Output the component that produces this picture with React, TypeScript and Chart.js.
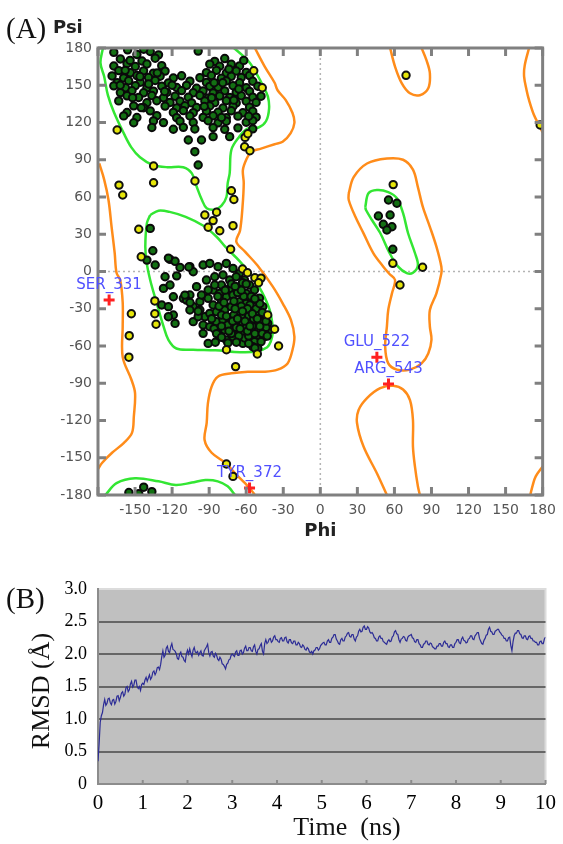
import React, { useEffect, useRef } from "react";
import { Chart, registerables } from "chart.js";

Chart.register(...registerables);

// ================= Panel A : Ramachandran plot (phi, psi) =================
const ANGLE_MIN = -180;
const ANGLE_MAX = 180;
const ANGLE_STEP = 30;

// core (favoured) region contours – green
const CORE_BETA: number[][] = [
  [-176, 180], [-178, 168], [-175, 157], [-172, 142], [-167, 128], [-159, 111], [-153, 100], [-146, 92],
  [-136, 86], [-124, 84], [-111, 84], [-104, 79], [-100, 68], [-96, 58], [-92, 51], [-85, 50],
  [-80, 53], [-76, 60], [-75, 71], [-73.4, 79], [-72, 98], [-66, 108], [-59, 115], [-50, 116],
  [-44, 121], [-41.5, 131], [-42.5, 141], [-46.6, 150], [-52, 160], [-57, 168], [-63, 174], [-70, 180],
];
const CORE_BETA_WRAP: number[][] = [
  [-174, -180], [-165, -170.5], [-150, -166.5], [-131, -169], [-117, -172], [-104, -170], [-93, -168],
  [-83, -169], [-75, -173], [-69, -180],
];
const CORE_ALPHA: number[][] = [
  [-137.7, 45.5], [-131, 49], [-122, 48], [-109, 44], [-95, 37], [-84, 28], [-77, 20], [-65, 8],
  [-55, -4], [-47, -17], [-41, -31], [-38.6, -44], [-38.6, -50], [-40, -56], [-43, -61], [-52, -64.5],
  [-65, -65], [-85, -63.5], [-103, -63], [-116.5, -62], [-123, -55], [-127, -44], [-132.6, -25],
  [-137.7, -7], [-140.6, 7], [-141.7, 20], [-140.4, 39], [-137.7, 45.5],
];
const CORE_LEFT: number[][] = [
  [36.4, 52], [39, 63], [45.8, 65.6], [55, 64], [62, 59], [67, 47], [71, 31], [76.6, 14.9], [79, 5],
  [75, -1], [70, -1.3], [63, 3.9], [56, 15], [48.5, 31], [41.8, 41.5], [37, 49.5], [36.4, 52],
];

// allowed (generous) region contours – orange
const ALLOW_LEFT_STRIP: number[][] = [
  [-179, 87], [-175, 74], [-171.5, 57.6], [-169, 36], [-166.5, 15], [-165, -1], [-162, -7], [-160, -25],
  [-160, -44], [-160, -69], [-153, -87], [-150, -98], [-151, -117], [-152.5, -130], [-159, -138],
  [-168.6, -146], [-176.6, -154], [-180, -159],
];
const ALLOW_RIGHT_TOP: number[][] = [
  [169, 180], [165.5, 166], [165, 157], [167, 146], [169, 138], [173, 126], [177, 118], [180, 112],
];
const ALLOW_RIGHT_BOTTOM: number[][] = [[170, -180], [172, -172], [174.4, -165], [180, -157]];
const ALLOW_MAIN: number[][] = [
  [-53, 180], [-45, 165], [-37, 152], [-34.6, 146], [-28, 138], [-22.5, 127.6], [-21, 119.6], [-24, 111.5],
  [-30.5, 104.5], [-37, 102.5], [-48, 99], [-56, 96.5], [-60, 90], [-62.7, 81.7], [-62, 71], [-63, 52],
  [-65, 33], [-68, 24], [-61, 16], [-51, 5], [-38.6, -12], [-30.5, -25.6], [-23.8, -39], [-21, -52.5],
  [-22.5, -63], [-26.5, -74], [-34.6, -79], [-45, -80.7], [-58.7, -80.7], [-72, -82], [-83, -84.7],
  [-88, -92.7], [-91, -106], [-92, -122], [-93.7, -135.7], [-88, -146], [-77, -154], [-69, -162.5],
  [-61, -170.5], [-56, -176], [-53, -180],
];
const ALLOW_LEFT_HANDED: number[][] = [
  [23, 63], [27, 76], [37.8, 87], [53.9, 91], [67, 90], [75, 82], [79, 68], [83, 52], [88.7, 36], [94, 20],
  [98, 3.9], [98, -1.5], [94, -17.6], [88.7, -31], [88.7, -44.4], [90, -55], [87.4, -66], [82, -74],
  [72.6, -79], [62, -79], [55, -74], [52.5, -60.5], [53.9, -44.4], [55, -31], [58, -17.6], [60.5, -6.8],
  [56, -2], [51, 3.9], [43, 14.6], [35, 30.7], [28.4, 44], [23, 57.6], [23, 63],
];
const ALLOW_BOTTOM_LOOP: number[][] = [
  [53.9, -180], [45.8, -162.5], [35, -141], [29.7, -122], [31, -111.5], [37.8, -102], [48.5, -94], [59, -92],
  [67, -95], [72.6, -103.5], [75, -119.6], [75, -141], [76.6, -157], [79, -173], [80.6, -180],
];
const ALLOW_TOP_LOOP: number[][] = [
  [56.5, 180], [60.5, 165], [66, 151.5], [72.6, 143.5], [80.6, 142], [87.4, 147.5], [88.7, 159.6], [86, 170],
  [82, 180],
];

// residues in favoured regions (dark green)
const FAVOURED: number[][] = [
  [-167.2, 176.5], [-148.5, 174.8], [-137.7, 177.2], [-131, 174.5], [-98.9, 177.5], [-156, 178.5], [-143, 179],
  [-161.9, 171.2], [-144.4, 169.5], [-133.7, 171.8], [-85.5, 169.2], [-77.4, 171.5],
  [-167.2, 165.5], [-156.5, 167.4], [-149.8, 165.2], [-140.4, 167.1], [-128.4, 165.8], [-89.5, 167], [-81.5, 165.3], [-72.1, 166.9], [-65.4, 165.6],
  [-163.2, 161.8], [-153.8, 160.1], [-143.1, 161.6], [-135.1, 159.8], [-125.7, 161.4], [-92.2, 160.2], [-84.1, 162], [-76.1, 159.9], [-68.1, 161.5], [-60, 160.4],
  [-168.6, 157.5], [-159.2, 155.9], [-148.5, 157.8], [-139.1, 156.2], [-129.7, 157.3], [-119, 155.8], [-112.3, 157.6], [-97.5, 156.1], [-88.2, 157.9], [-80.1, 155.6], [-72.1, 157.2], [-64, 156.3], [-57.3, 157.8],
  [-164.5, 152.1], [-155.2, 153.6], [-145.8, 152.4], [-133.7, 153.8], [-123, 151.9], [-105.6, 153.3], [-92.2, 152.2], [-76.1, 153.5], [-65.4, 152], [-54.7, 153.2],
  [-167.2, 149.5], [-157.8, 148], [-149.8, 149.7], [-140.4, 147.9], [-128.4, 149.3], [-116.3, 148.2], [-108.3, 149.9], [-100.2, 147.6], [-89.5, 149.1], [-82.8, 148.3], [-70.7, 149.6], [-60, 148.1], [-50.6, 149.2],
  [-161.9, 144.1], [-152.5, 145.6], [-143.1, 143.9], [-135.1, 145.3], [-124.3, 144.2], [-112.3, 145.7], [-102.9, 144], [-94.9, 145.4], [-86.8, 143.8], [-77.4, 145.5], [-68.1, 144.3], [-57.3, 145.1],
  [-156.5, 141.5], [-147.1, 140.1], [-136.4, 141.7], [-127, 139.9], [-117.6, 141.2], [-106.9, 140.3], [-97.5, 141.8], [-90.8, 139.8], [-81.5, 141.4], [-73.4, 140.2], [-64, 141.6], [-54.7, 140.4], [-48, 141.2],
  [-163.2, 137.4], [-140.4, 135.9], [-132.4, 137.5], [-121.7, 136.1], [-113.6, 137.2], [-104.2, 135.8], [-93.5, 137.3], [-85.5, 136], [-76.1, 137.6], [-68.1, 135.7], [-60, 137.1], [-52, 136.2],
  [-151.1, 133.4], [-143.1, 131.9], [-125.7, 133.2], [-116.3, 131.8], [-109.6, 133.5], [-100.2, 132.1], [-89.5, 133.3], [-78.8, 131.7], [-70.7, 133.1], [-57.3, 132.3],
  [-156.5, 128], [-137.7, 129.4], [-119, 128.1], [-110.9, 129.6], [-102.9, 127.9], [-92.2, 129.2], [-82.8, 128.2], [-72.1, 129.5], [-62.7, 127.8], [-54.7, 129.1],
  [-159.2, 125.3], [-148.5, 124], [-132.4, 125.5], [-116.3, 123.9], [-105.6, 125.2], [-94.9, 124.1], [-86.8, 125.4], [-76.1, 123.8], [-66.7, 125.1], [-52, 124.3],
  [-151.1, 119.8], [-135.1, 121.3], [-127, 119.9], [-113.6, 121.1], [-102.9, 120], [-90.8, 121.4], [-82.8, 119.7], [-76.1, 121], [-60, 120.2], [-54.7, 121.5],
  [-136.4, 116], [-119, 114.6], [-110.9, 116.1], [-101.6, 114.8], [-86.8, 115.9], [-77.4, 114.5], [-66.7, 115.7], [-54.7, 114.9],
  [-86.8, 108.6], [-73.4, 108.6], [-106.9, 105.9], [-96.2, 105.9], [-101.6, 96.5], [-98.9, 85.8],
  [-162, 150], [-152, 140], [-145, 132], [-154, 170], [-158, 162], [-139, 151], [-146, 157], [-126, 145], [-132, 160], [-120, 150],
  [-86, 152], [-74, 163], [-66, 147], [-58, 125], [-80, 124], [-94, 133], [-70, 138], [-62, 170], [-88, 140], [-79, 152],
  [-137.7, 34.7], [-135.6, 16.7], [-140.4, 9.2], [-133.7, 5.2], [-121.7, 9.8], [-117.6, 8.2], [-113.6, 3.3], [-105.6, 3.9],
  [-125.7, -4.2], [-116.3, -3.5], [-102.9, -0.2], [-94.9, 5.2], [-89.5, 6.5], [-82.8, 3.9], [-76.1, 6.5], [-70.7, 2.5], [-65.4, -1.5],
  [-127, -13.6], [-121.7, -10.9], [-119, -20.3], [-110.9, -21.6], [-105.6, -18.9], [-100.2, -12.2], [-92.2, -6.9], [-85.5, -4.2], [-78.8, -2.8], [-73.4, -6.9], [-68.1, -4.2], [-61.4, -6.9], [-57.3, -10.9],
  [-128.4, -27], [-123, -28.3], [-119, -35], [-108.3, -23], [-102.9, -28.3], [-97.5, -24.3], [-90.8, -21.6], [-86.8, -14.9], [-80.1, -10.9], [-73.4, -13.6], [-65.4, -12.2], [-60, -17.6], [-53.3, -14.9],
  [-123, -36.4], [-117.6, -41.8], [-105.6, -31], [-97.5, -31], [-93.5, -36.4], [-86.8, -27], [-80.1, -23], [-76.1, -20.3], [-70.7, -18.9], [-65.4, -24.3], [-60, -25.7], [-54.7, -23], [-49.3, -21.6], [-46.6, -28.3],
  [-102.9, -40.4], [-94.9, -43.1], [-89.5, -33.7], [-84.1, -32.4], [-77.4, -31], [-72.1, -28.3], [-66.7, -32.4], [-61.4, -33.7], [-56, -31], [-50.6, -33.7], [-45.3, -36.4],
  [-94.9, -49.8], [-89.5, -44.4], [-84.1, -40.4], [-78.8, -39.1], [-73.4, -37.7], [-68.1, -40.4], [-62.7, -41.8], [-57.3, -40.4], [-52, -41.8], [-46.6, -44.4], [-42.6, -41.8],
  [-90.8, -57.9], [-82.8, -49.8], [-77.4, -47.1], [-72.1, -45.8], [-66.7, -48.5], [-61.4, -49.8], [-56, -48.5], [-50.6, -51.2], [-45.3, -52.5], [-41.3, -47.1],
  [-76.1, -55.2], [-70.7, -52.5], [-65.4, -55.2], [-58.7, -55.2], [-53.3, -56.5], [-48, -56.5], [-62.7, -57.9], [-54.7, -60.5], [-50.6, -61.9],
  [-85.5, -10.9], [-81.5, -17.6], [-96.2, -18.9], [-98.9, -36.4], [-90.8, -14.9], [-109.6, -19], [-105.5, -25], [-98.9, -32], [-74.8, -57.6], [-61.3, -53.5], [-53, -61.6],
  [-70, -35], [-63, -37], [-58, -36], [-68, -45], [-60, -45], [-55, -44], [-64, -28], [-57, -27], [-52, -30], [-75, -43], [-80, -35],
  [-70, -24], [-62, -20], [-48, -40], [-50, -47], [-45, -48], [-66, -52], [-72, -50], [-58, -52], [-86, -46], [-82, -28], [-78, -25],
  [-59, -30], [-54, -38], [-44, -45], [-49, -26], [-67, -17], [-72, -10], [-77, -15], [-63, -9], [-56, -20], [-123, 10.8], [-106.5, 3.6],
  [-88, -38], [-84, -50], [-80, -44], [-76, -36], [-74, -48], [-71, -40], [-69, -30], [-67, -38], [-65, -46], [-63, -32],
  [-61, -40], [-59, -48], [-57, -44], [-55, -34], [-53, -50], [-51, -38], [-49, -44], [-47, -50], [-47, -33], [-44, -40],
  [-43, -52], [-58, -58], [-68, -57], [-80, -53], [-85, -57], [-64, -15], [-60, -10], [-53, -22], [-69, -12], [-83, -20],
  [-155, -178], [-143, -173.7], [-136.4, -177.3], [-147, -179],
  [55.2, 57.6], [62, 55], [47, 44.7], [56.5, 45.5], [51, 38], [58, 36], [53.9, 33.4], [58.7, 17.9],
];

// residues in allowed regions (yellow)
const ALLOWED: number[][] = [
  [-164.5, 114], [-135, 85], [-135, 71.5], [-163, 69.6], [-160, 61.6], [-101.5, 72.9], [-72, 65], [-70, 58],
  [-93.5, 45.5], [-84, 47.7], [-86.8, 41], [-90.8, 35.6], [-81.4, 32.8], [-70.7, 36.9], [-147, 34], [-145, 11.9],
  [-72.6, 17.9], [-53.9, 161.7], [-47, 148], [-60.9, 108], [-61.3, 100.5], [-57, 97.3], [-58.7, 111],
  [-63, 2], [-59, -1], [-53, -5], [-48, -5.3], [-50, -9], [-134, -23.7], [-134, -34], [-133, -42.5],
  [-153, -34], [-154.7, -51.7], [-155, -69], [-42.6, -35], [-37, -46.5], [-33.8, -60], [-51, -66.4],
  [-76, -63], [-68.6, -76.6], [-76, -155], [-70.7, -165], [69.4, 158], [178, 118], [59, 70], [58.7, 6.6],
  [82.8, 3.4], [64.5, -10.9],
];

// outliers (red crosses) and their labels
const OUTLIERS: number[][] = [[-171, -23], [45.8, -69], [55.2, -90.6], [-57.3, -174.4]];
const OUTLIER_LABELS: string[] = ["SER_331", "GLU_522", "ARG_543", "TYR_372"];

// ================= Panel B : RMSD vs time =================
const TIME_STEP_NS = 0.025;
const RMSD: number[] = [
  0.35, 0.62, 0.95, 1.05, 1.10, 1.22, 1.30, 1.21, 1.24, 1.31, 1.32, 1.25, 1.22, 1.29, 1.30, 1.23, 1.27, 1.35, 1.36, 1.28,
  1.33, 1.40, 1.42, 1.35, 1.38, 1.48, 1.50, 1.42, 1.45, 1.54, 1.58, 1.49, 1.52, 1.60, 1.60, 1.50, 1.47, 1.50, 1.44, 1.53,
  1.55, 1.53, 1.60, 1.64, 1.58, 1.63, 1.68, 1.61, 1.64, 1.72, 1.74, 1.68, 1.72, 1.79, 1.80, 1.76, 1.84, 1.96, 2.05, 1.95,
  1.98, 2.09, 2.12, 2.04, 2.02, 2.11, 2.16, 2.07, 2.06, 2.04, 2.00, 1.93, 1.92, 2.00, 2.03, 1.96, 1.95, 1.90, 1.88, 2.00,
  2.06, 2.00, 2.08, 2.01, 1.96, 2.06, 2.10, 2.03, 2.02, 2.04, 1.98, 2.02, 2.05, 1.98, 1.97, 2.05, 2.08, 2.11, 2.15, 2.02,
  1.97, 2.03, 2.04, 1.97, 1.95, 2.01, 1.98, 1.92, 1.90, 1.95, 1.92, 1.85, 1.84, 1.81, 1.77, 1.84, 1.86, 1.91, 1.92, 1.98,
  2.00, 1.98, 1.96, 2.03, 2.05, 1.98, 1.98, 2.05, 2.06, 2.00, 2.02, 2.09, 2.12, 2.05, 2.05, 2.10, 2.10, 2.05, 2.04, 2.11,
  2.14, 2.04, 2.00, 2.07, 2.08, 2.13, 2.16, 2.04, 2.00, 2.16, 2.22, 2.16, 2.18, 2.23, 2.24, 2.18, 2.20, 2.26, 2.28, 2.22,
  2.22, 2.19, 2.18, 2.24, 2.25, 2.20, 2.20, 2.25, 2.26, 2.19, 2.17, 2.22, 2.22, 2.17, 2.16, 2.20, 2.20, 2.14, 2.14, 2.18,
  2.16, 2.11, 2.10, 2.14, 2.12, 2.07, 2.06, 2.10, 2.08, 2.03, 2.02, 2.04, 2.00, 2.05, 2.06, 2.10, 2.10, 2.06, 2.08, 2.13,
  2.15, 2.17, 2.18, 2.14, 2.14, 2.20, 2.22, 2.18, 2.18, 2.24, 2.26, 2.30, 2.30, 2.23, 2.20, 2.16, 2.15, 2.22, 2.24, 2.20,
  2.20, 2.26, 2.28, 2.32, 2.33, 2.27, 2.26, 2.30, 2.30, 2.23, 2.20, 2.26, 2.28, 2.35, 2.38, 2.34, 2.35, 2.41, 2.43, 2.38,
  2.38, 2.42, 2.40, 2.34, 2.32, 2.33, 2.30, 2.25, 2.24, 2.20, 2.20, 2.26, 2.28, 2.24, 2.24, 2.19, 2.18, 2.16, 2.15, 2.20,
  2.22, 2.19, 2.20, 2.26, 2.28, 2.34, 2.36, 2.31, 2.30, 2.22, 2.18, 2.23, 2.24, 2.27, 2.26, 2.21, 2.20, 2.26, 2.28, 2.29,
  2.30, 2.25, 2.24, 2.19, 2.18, 2.22, 2.22, 2.16, 2.14, 2.10, 2.10, 2.15, 2.16, 2.20, 2.20, 2.15, 2.14, 2.17, 2.16, 2.11,
  2.10, 2.08, 2.08, 2.12, 2.12, 2.16, 2.16, 2.12, 2.12, 2.18, 2.20, 2.16, 2.16, 2.11, 2.10, 2.14, 2.14, 2.10, 2.10, 2.16,
  2.18, 2.22, 2.22, 2.17, 2.16, 2.23, 2.26, 2.21, 2.20, 2.17, 2.18, 2.23, 2.24, 2.28, 2.28, 2.23, 2.22, 2.28, 2.30, 2.33,
  2.33, 2.24, 2.20, 2.16, 2.15, 2.21, 2.24, 2.29, 2.30, 2.38, 2.41, 2.35, 2.34, 2.30, 2.30, 2.35, 2.36, 2.38, 2.38, 2.34,
  2.32, 2.29, 2.28, 2.24, 2.24, 2.20, 2.20, 2.25, 2.26, 2.13, 2.05, 2.19, 2.28, 2.32, 2.32, 2.36, 2.36, 2.31, 2.30, 2.25,
  2.24, 2.28, 2.28, 2.23, 2.22, 2.27, 2.28, 2.24, 2.24, 2.20, 2.20, 2.18, 2.18, 2.14, 2.14, 2.19, 2.20, 2.16, 2.16, 2.23,
  2.26,
];
const RMSD_MAX = 3;
const TIME_MAX = 10;

// ---------------------------------------------------------------
const toPts = (a: number[][]) => a.map(([x, y]) => ({ x, y }));

const ramaPlugin = {
  id: "ramaDecor",
  beforeDatasetsDraw(chart: any) {
    const { ctx, chartArea, scales } = chart;
    const { left, right, top, bottom } = chartArea;
    const x0 = scales.x.getPixelForValue(0);
    const y0 = scales.y.getPixelForValue(0);
    ctx.save();
    ctx.strokeStyle = "#b4b4b4";
    ctx.lineWidth = 1.5;
    ctx.setLineDash([2, 3]);
    ctx.beginPath();
    ctx.moveTo(x0, top);
    ctx.lineTo(x0, bottom);
    ctx.moveTo(left, y0);
    ctx.lineTo(right, y0);
    ctx.stroke();
    ctx.restore();
  },
  afterDatasetsDraw(chart: any) {
    const { ctx, chartArea, scales } = chart;
    const { left, right, top, bottom } = chartArea;
    ctx.save();
    ctx.strokeStyle = "#808080";
    ctx.lineWidth = 3;
    ctx.strokeRect(left, top, right - left, bottom - top);
    ctx.beginPath();
    const L = 8;
    scales.x.ticks.forEach((t: any) => {
      const px = scales.x.getPixelForValue(t.value);
      ctx.moveTo(px, bottom);
      ctx.lineTo(px, bottom - L);
      ctx.moveTo(px, top);
      ctx.lineTo(px, top + L);
    });
    scales.y.ticks.forEach((t: any) => {
      const py = scales.y.getPixelForValue(t.value);
      ctx.moveTo(left, py);
      ctx.lineTo(left + L, py);
      ctx.moveTo(right, py);
      ctx.lineTo(right - L, py);
    });
    ctx.stroke();
    // outlier labels
    const meta = chart.getDatasetMeta(0);
    ctx.font = '15px "DejaVu Sans", sans-serif';
    ctx.fillStyle = "#5050ff";
    ctx.textAlign = "center";
    ctx.textBaseline = "middle";
    meta.data.forEach((el: any, i: number) => {
      ctx.fillText(OUTLIER_LABELS[i], el.x, el.y - 15);
    });
    ctx.restore();
  },
};

function RamaChart() {
  const ref = useRef<HTMLCanvasElement | null>(null);
  useEffect(() => {
    if (!ref.current) return;
    const contour = (d: number[][], color: string, width: number, order: number) => ({
      data: toPts(d),
      showLine: true,
      borderColor: color,
      borderWidth: width,
      pointRadius: 0,
      pointHoverRadius: 0,
      fill: false,
      tension: 0.35,
      order,
    });
    const ORANGE = "#ff8c1a";
    const GREEN = "#33e633";
    const chart = new Chart(ref.current, {
      type: "scatter",
      data: {
        datasets: [
          {
            data: toPts(OUTLIERS),
            pointStyle: "cross",
            pointRadius: 5.5,
            borderColor: "#ff2020",
            borderWidth: 3,
            order: 0,
          } as any,
          {
            data: toPts(ALLOWED),
            pointRadius: 3.7,
            backgroundColor: "#e6e60a",
            borderColor: "#111111",
            borderWidth: 2,
            order: 1,
          },
          {
            data: toPts(FAVOURED),
            pointRadius: 3.7,
            backgroundColor: "#137013",
            borderColor: "#0a0a0a",
            borderWidth: 2,
            order: 2,
          },
          contour(CORE_BETA, GREEN, 2.5, 4),
          contour(CORE_BETA_WRAP, GREEN, 2.5, 4),
          contour(CORE_ALPHA, GREEN, 2.5, 4),
          contour(CORE_LEFT, GREEN, 2.5, 4),
          contour(ALLOW_LEFT_STRIP, ORANGE, 2.5, 5),
          contour(ALLOW_RIGHT_TOP, ORANGE, 2.5, 5),
          contour(ALLOW_RIGHT_BOTTOM, ORANGE, 2.5, 5),
          contour(ALLOW_MAIN, ORANGE, 2.5, 5),
          contour(ALLOW_LEFT_HANDED, ORANGE, 2.5, 5),
          contour(ALLOW_BOTTOM_LOOP, ORANGE, 2.5, 5),
          contour(ALLOW_TOP_LOOP, ORANGE, 2.5, 5),
        ] as any,
      },
      options: {
        animation: false,
        responsive: false,
        events: [],
        layout: { padding: { left: 0, right: 16, top: 48, bottom: 0 } },
        plugins: { legend: { display: false }, tooltip: { enabled: false } },
        scales: {
          x: {
            type: "linear",
            min: ANGLE_MIN,
            max: ANGLE_MAX,
            ticks: {
              stepSize: ANGLE_STEP,
              autoSkip: false,
              maxRotation: 0,
              padding: 7,
              color: "#555555",
              font: { family: '"DejaVu Sans", sans-serif', size: 14 },
              callback: (v: any) => (v === ANGLE_MIN ? "" : String(v)),
            },
            grid: { display: false, drawTicks: false },
            border: { display: false },
            title: {
              display: true,
              text: "Phi",
              color: "#222222",
              font: { family: '"DejaVu Sans", sans-serif', size: 18, weight: "bold" },
              padding: { top: 0, bottom: 3 },
            },
            afterFit: (s: any) => {
              s.height = 50;
            },
          },
          y: {
            type: "linear",
            min: ANGLE_MIN,
            max: ANGLE_MAX,
            ticks: {
              stepSize: ANGLE_STEP,
              autoSkip: false,
              padding: 6,
              color: "#555555",
              font: { family: '"DejaVu Sans", sans-serif', size: 14 },
            },
            grid: { display: false, drawTicks: false },
            border: { display: false },
            afterFit: (s: any) => {
              s.width = 98;
            },
          },
        },
      } as any,
      plugins: [ramaPlugin],
    });
    return () => chart.destroy();
  }, []);
  return (
    <canvas
      ref={ref}
      width={563}
      height={545}
      style={{ position: "absolute", left: 0, top: 0, width: 563, height: 545 }}
    />
  );
}

const rmsdPlugin = {
  id: "rmsdDecor",
  beforeDraw(chart: any) {
    const { ctx, chartArea } = chart;
    const { left, right, top, bottom } = chartArea;
    ctx.save();
    ctx.fillStyle = "#c0c0c0";
    ctx.fillRect(left, top, right - left, bottom - top);
    ctx.strokeStyle = "#dcdcdc";
    ctx.lineWidth = 2;
    ctx.beginPath();
    ctx.moveTo(left, top);
    ctx.lineTo(right, top);
    ctx.lineTo(right, bottom);
    ctx.stroke();
    ctx.restore();
  },
  afterDatasetsDraw(chart: any) {
    const { ctx, chartArea, scales } = chart;
    const { bottom } = chartArea;
    ctx.save();
    ctx.strokeStyle = "#8c8c8c";
    ctx.lineWidth = 2;
    ctx.beginPath();
    scales.x.ticks.forEach((t: any) => {
      const px = scales.x.getPixelForValue(t.value);
      ctx.moveTo(px, bottom);
      ctx.lineTo(px, bottom - 4);
    });
    ctx.stroke();
    ctx.restore();
  },
};

function RmsdChart() {
  const ref = useRef<HTMLCanvasElement | null>(null);
  useEffect(() => {
    if (!ref.current) return;
    const data = RMSD.map((v, i) => ({ x: +(i * TIME_STEP_NS).toFixed(3), y: v }));
    const serif = '"Liberation Serif", "Times New Roman", serif';
    const chart = new Chart(ref.current, {
      type: "scatter",
      data: {
        datasets: [
          {
            data,
            showLine: true,
            borderColor: "#2c2c96",
            borderWidth: 1.2,
            pointRadius: 0,
            pointHoverRadius: 0,
            fill: false,
            tension: 0,
          },
        ],
      },
      options: {
        animation: false,
        responsive: false,
        events: [],
        layout: { padding: { left: 0, right: 15, top: 34, bottom: 0 } },
        plugins: { legend: { display: false }, tooltip: { enabled: false } },
        scales: {
          x: {
            type: "linear",
            min: 0,
            max: TIME_MAX,
            ticks: {
              stepSize: 1,
              autoSkip: false,
              maxRotation: 0,
              padding: 7,
              color: "#000000",
              font: { family: serif, size: 21 },
            },
            grid: { display: false, drawTicks: false },
            border: { display: true, color: "#8c8c8c", width: 2 },
            afterFit: (s: any) => {
              s.height = 60;
            },
          },
          y: {
            type: "linear",
            min: 0,
            max: RMSD_MAX,
            ticks: {
              stepSize: 0.5,
              autoSkip: false,
              padding: 11,
              color: "#000000",
              font: { family: serif, size: 18 },
              callback: (v: any) => (v === 0 ? "0" : Number(v).toFixed(1)),
            },
            grid: {
              drawTicks: false,
              lineWidth: 2,
              color: (c: any) =>
                c.tick && c.tick.value > 0 && c.tick.value < RMSD_MAX ? "#666666" : "rgba(0,0,0,0)",
            },
            border: { display: true, color: "#8c8c8c", width: 2 },
            afterFit: (s: any) => {
              s.width = 98;
            },
          },
        },
      } as any,
      plugins: [rmsdPlugin],
    });
    return () => chart.destroy();
  }, []);
  return (
    <canvas
      ref={ref}
      width={563}
      height={289}
      style={{ position: "absolute", left: 0, top: 555, width: 563, height: 289 }}
    />
  );
}

export default function App() {
  const serif = '"Liberation Serif", "Times New Roman", serif';
  const sans = '"DejaVu Sans", sans-serif';
  return (
    <div
      style={{
        position: "absolute",
        left: 0,
        top: 0,
        width: 563,
        height: 844,
        background: "#ffffff",
        overflow: "hidden",
      }}
    >
      <RamaChart />
      <RmsdChart />
      <div style={{ position: "absolute", left: 6, top: 14, fontFamily: serif, fontSize: 29, lineHeight: 1, color: "#111" }}>
        (A)
      </div>
      <div style={{ position: "absolute", left: 53, top: 18, fontFamily: sans, fontSize: 18, fontWeight: "bold", lineHeight: 1, color: "#222" }}>
        Psi
      </div>
      <div style={{ position: "absolute", left: 6, top: 584, fontFamily: serif, fontSize: 29, lineHeight: 1, color: "#111" }}>
        (B)
      </div>
      <div
        style={{
          position: "absolute",
          left: 41,
          top: 691,
          fontFamily: serif,
          fontSize: 26,
          lineHeight: 1,
          whiteSpace: "pre",
          color: "#111",
          transform: "translate(-50%, -50%) rotate(-90deg)",
        }}
      >
        RMSD (Å)
      </div>
      <div
        style={{
          position: "absolute",
          left: 347,
          top: 814,
          fontFamily: serif,
          fontSize: 26,
          lineHeight: 1,
          whiteSpace: "pre",
          color: "#111",
          transform: "translateX(-50%)",
        }}
      >
        {"Time  (ns)"}
      </div>
    </div>
  );
}
